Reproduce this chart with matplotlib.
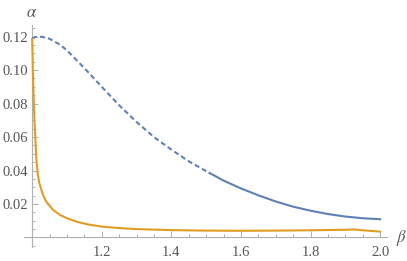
import matplotlib.pyplot as plt
from matplotlib.ticker import MultipleLocator, FixedLocator

plt.rcParams['mathtext.fontset'] = 'stix'

# Curva azul (tramo discontinuo y tramo continuo)
blue_dash_beta = [1.0, 1.01, 1.02, 1.03, 1.05, 1.08, 1.10, 1.15, 1.20, 1.25, 1.30, 1.35, 1.40, 1.45, 1.51]
blue_dash_alpha = [0.1190, 0.1198, 0.1200, 0.1198, 0.1187, 0.1152, 0.1118, 0.1012, 0.0900, 0.0790, 0.0690,
                   0.0600, 0.0525, 0.0455, 0.0385]
blue_solid_beta = [1.51, 1.55, 1.60, 1.65, 1.70, 1.75, 1.80, 1.85, 1.90, 1.95, 2.0]
blue_solid_alpha = [0.0385, 0.0340, 0.0293, 0.0252, 0.0215, 0.0184, 0.0160, 0.0140, 0.0125, 0.0115, 0.0109]

# Curva naranja
orange_beta = [1.0, 1.001, 1.002, 1.004, 1.006, 1.008, 1.012, 1.016, 1.02, 1.03, 1.04, 1.06, 1.08, 1.10,
               1.13, 1.16, 1.20, 1.25, 1.30, 1.40, 1.50, 1.60, 1.70, 1.80, 1.90, 1.925, 1.95, 2.0]
orange_alpha = [0.1185, 0.110, 0.100, 0.085, 0.073, 0.064, 0.047, 0.038, 0.033, 0.026, 0.0215, 0.0165,
                0.0135, 0.0115, 0.0093, 0.0078, 0.0065, 0.0056, 0.0050, 0.0044, 0.0041, 0.0040, 0.0041,
                0.0043, 0.0046, 0.0048, 0.0043, 0.0035]

x_ticks = [1.2, 1.4, 1.6, 1.8, 2.0]
y_ticks = [0.02, 0.04, 0.06, 0.08, 0.10, 0.12]

blue = '#5E81B5'
orange = '#E19C24'
axis_gray = '#b0b0b0'
label_gray = '#555555'

fig = plt.figure(figsize=(4.07, 2.61), dpi=100)
ax = fig.add_axes([0.0585, 0.0536, 0.8925, 0.851])

ax.plot(blue_dash_beta, blue_dash_alpha, color=blue, lw=1.5, dashes=(2.4, 1.5), zorder=3)
ax.plot(blue_solid_beta, blue_solid_alpha, color=blue, lw=1.5, zorder=3)
ax.plot(orange_beta, orange_alpha, color=orange, lw=1.5, zorder=3)

ax.set_xlim(0.976, 2.02)
ax.set_ylim(-0.0057, 0.127)

for s in ['top', 'right']:
    ax.spines[s].set_visible(False)
ax.spines['left'].set_position(('data', 1.0))
ax.spines['bottom'].set_position(('data', 0.0))
for s in ['left', 'bottom']:
    ax.spines[s].set_color(axis_gray)
    ax.spines[s].set_linewidth(0.8)

ax.xaxis.set_major_locator(FixedLocator(x_ticks))
ax.yaxis.set_major_locator(FixedLocator(y_ticks))
ax.xaxis.set_minor_locator(MultipleLocator(0.05))
ax.yaxis.set_minor_locator(MultipleLocator(0.005))
ax.set_xticklabels(['%.1f' % v for v in x_ticks])
ax.set_yticklabels(['%.2f' % v for v in y_ticks])

ax.tick_params(which='both', direction='in', color=axis_gray, width=0.7,
               labelcolor=label_gray, labelsize=10.5)
ax.tick_params(which='major', length=4)
ax.tick_params(which='minor', length=2.2)
ax.tick_params(axis='x', pad=6)
ax.tick_params(axis='y', pad=3)
for lab in ax.get_xticklabels() + ax.get_yticklabels():
    lab.set_family('Liberation Serif')

fig.text(32 / 407, 1 - 12 / 261, r'$\alpha$', color=label_gray, fontsize=12,
         ha='center', va='center')
fig.text(402 / 407, 1 - 238 / 261, r'$\beta$', color=label_gray, fontsize=12,
         ha='center', va='center')

fig.savefig('out.png', dpi=100)
